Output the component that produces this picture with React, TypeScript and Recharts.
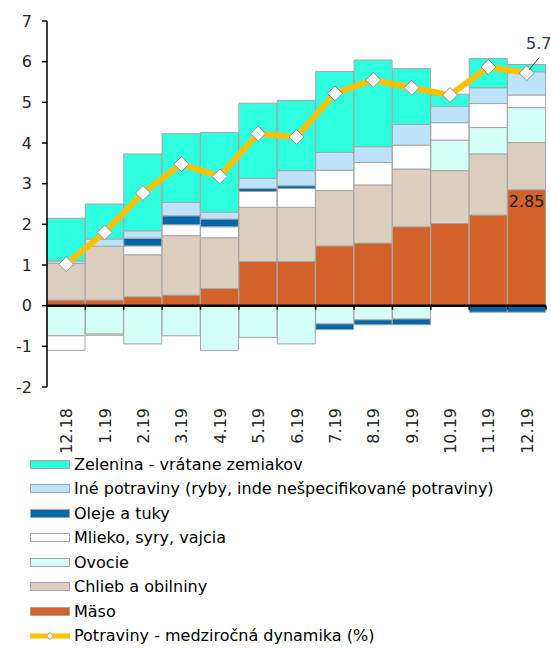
import React from 'react';
import {
  ComposedChart,
  Bar,
  Line,
  XAxis,
  YAxis,
  Legend,
  ReferenceLine,
  LabelList,
} from 'recharts';

document.body.style.margin = '0';

const months = ['12.18', '1.19', '2.19', '3.19', '4.19', '5.19', '6.19', '7.19', '8.19', '9.19', '10.19', '11.19', '12.19'];
const maso = [0.14, 0.14, 0.22, 0.26, 0.42, 1.09, 1.09, 1.47, 1.54, 1.94, 2.02, 2.23, 2.85];
const chlieb = [0.9, 1.32, 1.03, 1.46, 1.25, 1.33, 1.33, 1.36, 1.43, 1.42, 1.3, 1.5, 1.16];
const ovocie = [-0.74, -0.7, -0.94, -0.74, -1.1, -0.78, -0.94, -0.45, -0.35, -0.33, 0.75, 0.65, 0.86];
const mlieko = [-0.36, -0.03, 0.22, 0.27, 0.27, 0.39, 0.46, 0.5, 0.55, 0.59, 0.43, 0.59, 0.31];
const oleje = [0, 0, 0.19, 0.22, 0.19, 0.07, 0.07, -0.14, -0.12, -0.14, 0, -0.16, -0.16];
const ine = [0.06, 0.18, 0.18, 0.33, 0.17, 0.25, 0.37, 0.44, 0.39, 0.51, 0.4, 0.39, 0.57];
const zelenina = [1.05, 0.86, 1.89, 1.69, 1.96, 1.85, 1.73, 1.99, 2.13, 1.37, 0.3, 0.72, 0.18];
const potraviny = [1.02, 1.8, 2.77, 3.48, 3.18, 4.23, 4.15, 5.22, 5.55, 5.36, 5.18, 5.87, 5.72];
const yTicks = [-2, -1, 0, 1, 2, 3, 4, 5, 6, 7];

const data = months.map((m, i) => ({
  month: m,
  maso: maso[i],
  chlieb: chlieb[i],
  ovocie: ovocie[i],
  mlieko: mlieko[i],
  oleje: oleje[i],
  ine: ine[i],
  zelenina: zelenina[i],
  potraviny: potraviny[i],
}));

const FONT = '"DejaVu Sans", Verdana, sans-serif';
const BORDER = '#A6A6A6';

const legendItems = [
  { name: 'Zelenina - vrátane zemiakov', color: '#2EFFDF' },
  { name: 'Iné potraviny (ryby, inde nešpecifikované potraviny)', color: '#BDE3FB' },
  { name: 'Oleje a tuky', color: '#0066AA' },
  { name: 'Mlieko, syry, vajcia', color: '#FFFFFF' },
  { name: 'Ovocie', color: '#D5FFF6' },
  { name: 'Chlieb a obilniny', color: '#DCCFC0' },
  { name: 'Mäso', color: '#D2622A' },
];

const Diamond = (props: any) => {
  const { cx, cy } = props;
  if (cx == null || cy == null) return null;
  const r = 7.5;
  return (
    <polygon
      points={`${cx},${cy - r} ${cx + r},${cy} ${cx},${cy + r} ${cx - r},${cy}`}
      fill="#FFFFFF"
      stroke="#8C8C8C"
      strokeWidth={1}
    />
  );
};

const MonthTick = (props: any) => {
  const { x, y, payload } = props;
  return (
    <g transform={`translate(${x + 6},${y + 13}) rotate(-90)`}>
      <text x={0} y={0} textAnchor="end" fontSize={16} fill="#262626" fontFamily={FONT}>
        {payload.value}
      </text>
    </g>
  );
};

const ZeroLine = (props: any) => {
  const { x1, y1, x2 } = props;
  const step = (x2 - x1) / months.length;
  return (
    <g>
      <line x1={x1} y1={y1} x2={x2} y2={y1} stroke="#000" strokeWidth={2.5} />
      {months.map((m, i) => (
        <line key={m} x1={x1 + step * (i + 1)} y1={y1} x2={x1 + step * (i + 1)} y2={y1 + 4} stroke="#000" strokeWidth={1.5} />
      ))}
    </g>
  );
};

const LastLineLabel = (props: any) => {
  const { x, y, index, value } = props;
  if (index !== months.length - 1) return null;
  return (
    <g>
      <line x1={x + 12} y1={y - 15} x2={x + 2} y2={y - 3} stroke="#404040" strokeWidth={1} />
      <text x={x + 12} y={y - 24} textAnchor="middle" fontSize={16} fill="#333355" fontFamily={FONT}>
        {Number(value).toFixed(1)}
      </text>
    </g>
  );
};

const LastBarLabel = (props: any) => {
  const { x, y, width, index, value } = props;
  if (index !== months.length - 1) return null;
  return (
    <text x={x + width / 2} y={y + 17} textAnchor="middle" fontSize={16} fill="#1A1A1A" fontFamily={FONT}>
      {value}
    </text>
  );
};

const LegendContent = () => (
  <div style={{ fontFamily: FONT, fontSize: 16, color: '#000', height: 196, paddingLeft: 30, whiteSpace: 'nowrap' }}>
    {legendItems.map((it) => (
      <div key={it.name} style={{ height: 24.5, display: 'flex', alignItems: 'center' }}>
        <span
          style={{
            display: 'inline-block',
            width: 38,
            height: 7,
            background: it.color,
            border: `1px solid ${BORDER}`,
            marginRight: 4,
          }}
        />
        <span>{it.name}</span>
      </div>
    ))}
    <div style={{ height: 24.5, display: 'flex', alignItems: 'center' }}>
      <svg width={40} height={12} style={{ marginRight: 4 }}>
        <line x1={0} y1={6} x2={40} y2={6} stroke="#FFC000" strokeWidth={5} strokeLinecap="round" />
        <polygon points="20,2.5 23.5,6 20,9.5 16.5,6" fill="#fff" stroke="#8C8C8C" strokeWidth={0.8} />
      </svg>
      <span>Potraviny - medziročná dynamika (%)</span>
    </div>
  </div>
);

export default function App() {
  return (
    <ComposedChart
      width={551}
      height={648}
      data={data}
      stackOffset="sign"
      barCategoryGap={0}
      margin={{ top: 21, right: 5, bottom: 0, left: 0 }}
    >
      <XAxis
        dataKey="month"
        axisLine={false}
        tickLine={false}
        tick={<MonthTick />}
        interval={0}
        height={65}
      />
      <YAxis
        domain={[-2, 7]}
        ticks={yTicks}
        width={47}
        axisLine={{ stroke: '#000', strokeWidth: 1.5 }}
        tickLine={{ stroke: '#000', strokeWidth: 1.5 }}
        tickSize={5}
        tick={{ fontSize: 16, fill: '#262626', fontFamily: FONT }}
        tickMargin={10}
        allowDataOverflow
      />
      <Legend
        verticalAlign="bottom"
        align="left"
        content={<LegendContent />}
        wrapperStyle={{ left: 0, width: 551 }}
      />
      <Bar dataKey="maso" name="Mäso" stackId="a" fill="#D2622A" stroke={BORDER} strokeWidth={1} isAnimationActive={false}>
        <LabelList dataKey="maso" content={<LastBarLabel />} />
      </Bar>
      <Bar dataKey="chlieb" name="Chlieb a obilniny" stackId="a" fill="#DCCFC0" stroke={BORDER} strokeWidth={1} isAnimationActive={false} />
      <Bar dataKey="ovocie" name="Ovocie" stackId="a" fill="#D5FFF6" stroke={BORDER} strokeWidth={1} isAnimationActive={false} />
      <Bar dataKey="mlieko" name="Mlieko, syry, vajcia" stackId="a" fill="#FFFFFF" stroke={BORDER} strokeWidth={1} isAnimationActive={false} />
      <Bar dataKey="oleje" name="Oleje a tuky" stackId="a" fill="#0066AA" stroke={BORDER} strokeWidth={1} isAnimationActive={false} />
      <Bar dataKey="ine" name="Iné potraviny (ryby, inde nešpecifikované potraviny)" stackId="a" fill="#BDE3FB" stroke={BORDER} strokeWidth={1} isAnimationActive={false} />
      <Bar dataKey="zelenina" name="Zelenina - vrátane zemiakov" stackId="a" fill="#2EFFDF" stroke={BORDER} strokeWidth={1} isAnimationActive={false} />
      <ReferenceLine y={0} stroke="#000" shape={<ZeroLine />} />
      <Line
        dataKey="potraviny"
        name="Potraviny - medziročná dynamika (%)"
        stroke="#FFC000"
        strokeWidth={6}
        dot={<Diamond />}
        activeDot={false}
        isAnimationActive={false}
      >
        <LabelList dataKey="potraviny" content={<LastLineLabel />} />
      </Line>
    </ComposedChart>
  );
}
